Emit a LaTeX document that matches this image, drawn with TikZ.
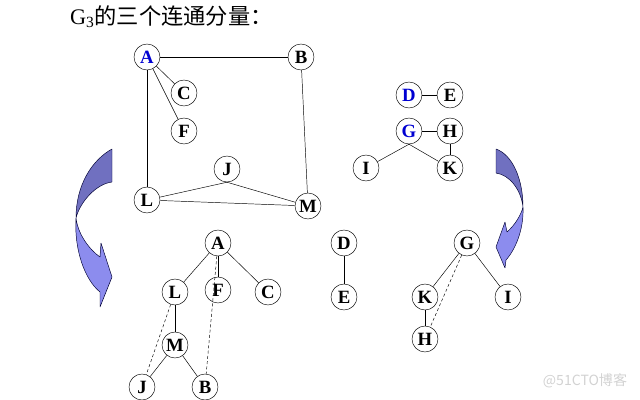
\documentclass[tikz,border=0pt]{standalone}
\usepackage{fontspec}
\setmainfont{Liberation Serif}
\newfontfamily\cjk{Noto Sans CJK SC}
\newfontfamily\labelfont{Liberation Serif Bold}
\usepackage{xcolor}
\usepackage{tikz}
\definecolor{ribbondark}{RGB}{112,112,192}
\definecolor{ribbonlight}{RGB}{140,140,238}
\definecolor{rootblue}{RGB}{0,0,210}

\begin{document}
\begin{tikzpicture}[x=0.03cm, y=-0.03cm,
        vertex/.style={draw, circle, fill=white, minimum size=0.78cm, inner sep=0pt, text centered, text=black, font=\labelfont\fontsize{16}{16}\selectfont},
        root/.style={vertex, text=rootblue},
        back/.style={draw=blue!20!black, fill=ribbondark, line join=round},
        front/.style={draw=blue!20!black, fill=ribbonlight, line join=round},
        cross/.style={dash pattern=on 2.5pt off 2pt}]
        \useasboundingbox (0,0) rectangle (640,400);
        \node[anchor=west] (title) at (66,17) {\fontsize{19}{19}\selectfont G\textsubscript{3}\cjk 的三个连通分量：};

        % graph G3
        \node[root] (A) at (147,57) {A};
        \node[vertex] (B) at (301,57) {B};
        \node[vertex] (C) at (184,93) {C};
        \node[vertex] (F) at (184,131) {F};
        \node[vertex] (J) at (227,169) {J};
        \node[vertex] (L) at (147,200) {L};
        \node[vertex] (M) at (308,206) {M};
        \node[root] (D) at (409,95) {D};
        \node[vertex] (E) at (450,95) {E};
        \node[root] (G) at (409,131) {G};
        \node[vertex] (H) at (450,131) {H};
        \node[vertex] (I) at (366,168) {I};
        \node[vertex] (K) at (450,168) {K};
        \draw (A) -- (B);
        \draw (A) -- (C);
        \draw (A) -- (F);
        \draw (A) -- (L);
        \draw (B) -- (M);
        \draw (L) -- (J.south);
        \draw (J.south) -- (M);
        \draw (L) -- (M);
        \draw (D) -- (E);
        \draw (G) -- (H);
        \draw (H) -- (K);
        \draw (G.south) -- (I);
        \draw (G.south) -- (K);

        % spanning forest
        \node[vertex] (tA) at (218,243) {A};
        \node[vertex] (tL) at (175,292) {L};
        \node[vertex] (tF) at (218,290) {F};
        \node[vertex] (tC) at (268,292) {C};
        \node[vertex] (tM) at (175,345) {M};
        \node[vertex] (tJ) at (142,387) {J};
        \node[vertex] (tB) at (205,387) {B};
        \node[vertex] (tD) at (344,243) {D};
        \node[vertex] (tE) at (344,297) {E};
        \node[vertex] (tG) at (467,243) {G};
        \node[vertex] (tK) at (425,297) {K};
        \node[vertex] (tI) at (508,297) {I};
        \node[vertex] (tH) at (425,339) {H};
        \draw (tA) -- (tL);
        \draw (tA) -- (tF);
        \draw (tA) -- (tC);
        \draw (tL) -- (tM);
        \draw (tM) -- (tJ);
        \draw (tM) -- (tB);
        \draw [cross] (tL) -- (tJ);
        \draw [cross] (tA) -- (tB);
        \draw (tD) -- (tE);
        \draw (tG) -- (tK);
        \draw (tG) -- (tI);
        \draw (tK) -- (tH);
        \draw [cross] (tG) -- (tH);

        % curved arrows
        \filldraw[back] (112,149) .. controls (92,160) and (76,185) .. (76,218) .. controls (80,202) and (96,184) .. (112,182) -- cycle;
        \filldraw[front] (76,218) .. controls (74,250) and (85,280) .. (100,292) -- (100,307) -- (112,277) -- (101,243) -- (100,257) .. controls (90,250) and (78,235) .. (76,218) -- cycle;
        \filldraw[back] (496,149) .. controls (513,155) and (523,180) .. (523,207) .. controls (521,190) and (510,175) .. (496,173) -- cycle;
        \filldraw[front] (523,207) .. controls (524,230) and (515,250) .. (506,260) -- (505,268) -- (496,247) -- (505,222) -- (507,232) .. controls (515,225) and (521,215) .. (523,207) -- cycle;

        \node (mark) at (585,381) {\cjk\fontsize{12}{12}\selectfont\color{gray!35}@51CTO博客};
\end{tikzpicture}
\end{document}
